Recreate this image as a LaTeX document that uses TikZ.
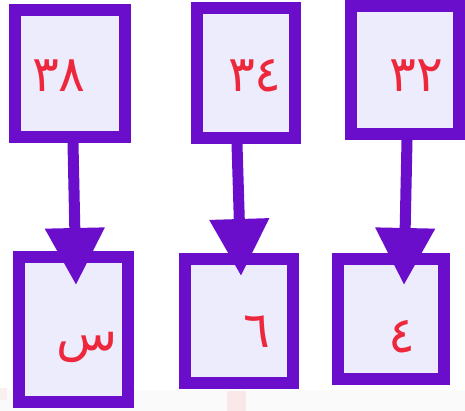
\documentclass[tikz,border=0pt]{standalone}
\usepackage{fontspec}
\newfontfamily\arabicfont[Script=Arabic]{DejaVu Sans}
\usetikzlibrary{arrows.meta}
\definecolor{boxpurple}{RGB}{106,14,204}
\definecolor{boxfill}{RGB}{237,236,252}
\definecolor{numred}{RGB}{238,40,60}
\definecolor{bandgray}{RGB}{251,250,250}
\definecolor{bandpink}{RGB}{250,232,232}
\tikzset{
  numbox/.style={draw=boxpurple, fill=boxfill, line width=12pt, rectangle, inner sep=0pt},
  numtext/.style={text=numred, font=\arabicfont\fontsize{50}{50}\selectfont, inner sep=0pt},
  flow/.style={draw=boxpurple, line width=11pt, -{Triangle[width=57pt,length=57pt]}}
}
\begin{document}
\begin{tikzpicture}[x=1pt,y=-1pt]
\useasboundingbox (0,0) rectangle (465,411);
% faint background band
\fill[bandgray] (0,390) rectangle (465,411);
\fill[bandpink] (227,391) rectangle (246,411);
\fill[bandpink!60!bandgray] (0,388) rectangle (7,400);
% top boxes
\node[numbox, minimum width=110pt, minimum height=127pt] (b1) at (70,73.5) {};
\node[numbox, minimum width=98pt, minimum height=130pt] (b2) at (246,73) {};
\node[numbox, minimum width=108pt, minimum height=128pt] (b3) at (405,70) {};
% bottom boxes
\node[numbox, minimum width=109pt, minimum height=145pt] (b4) at (73.5,329.5) {};
\node[numbox, minimum width=108pt, minimum height=124pt] (b5) at (239,321) {};
\node[numbox, minimum width=106pt, minimum height=120pt] (b6) at (391,319) {};
% texts
\node[numtext] (n1) at (59,76) {٣٨};
\node[numtext] (n2) at (255,76) {٣٤};
\node[numtext] (n3) at (416,76) {٣٢};
\node[numtext] (n4) at (87,347) {س};
\node[numtext] (n5) at (257,332) {٦};
\node[numtext] (n6) at (402,337) {٤};
% arrow tips
\coordinate (t1) at (76,285);
\coordinate (t2) at (241,276);
\coordinate (t3) at (404,285);
\draw[flow] ([xshift=3pt]b1.south) -- (t1);
\draw[flow] ([xshift=-9pt]b2.south) -- (t2);
\draw[flow] ([xshift=2pt]b3.south) -- (t3);
\end{tikzpicture}
\end{document}
